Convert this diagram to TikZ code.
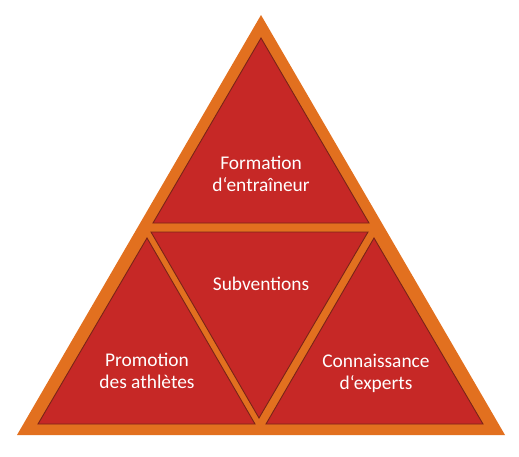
\documentclass[tikz,border=0pt]{standalone}
\usepackage{fontspec}
\setmainfont{Carlito}
\definecolor{pyrorange}{HTML}{E2701F}
\definecolor{pyrred}{HTML}{C62826}
\definecolor{pyredge}{HTML}{7A2418}
\tikzset{
  part/.style={fill=pyrred, draw=pyredge, line width=0.9pt, line join=miter},
  label/.style={text=white, align=center, font=\fontsize{19.4}{22}\selectfont}
}
\begin{document}
\begin{tikzpicture}[x=1pt, y=-1pt]
  \useasboundingbox (0,0) rectangle (519,456);
  % outer frame
  \fill[pyrorange] (261,15) -- (505,435) -- (17,435) -- cycle;
  % the four parts
  \draw[part] (261,38) -- (369,223) -- (153,223) -- cycle;
  \draw[part] (151,232) -- (368,232) -- (259,418) -- cycle;
  \draw[part] (147,238) -- (255,424) -- (38,424) -- cycle;
  \draw[part] (374,238) -- (483,424) -- (266,424) -- cycle;
  \node[label] (formation) at (261,174) {Formation\\d‘entraîneur};
  \node[label] (subv) at (261,284) {Subventions};
  \node[label] (promo) at (147,371) {Promotion\\des athlètes};
  \node[label] (experts) at (376,373) {Connaissance\\d‘experts};
\end{tikzpicture}
\end{document}
